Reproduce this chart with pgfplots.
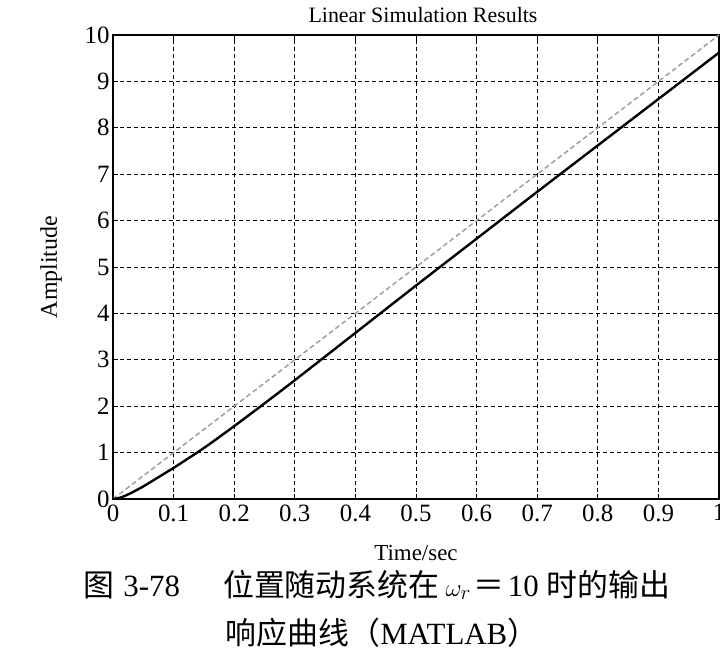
\documentclass[border=0pt]{standalone}
\usepackage{pgfplots}
\pgfplotsset{compat=1.18}
\usepackage{fontspec}
\setmainfont{Liberation Serif}
\newfontfamily\cjk{Noto Sans CJK SC}
\begin{document}
\begin{tikzpicture}
\useasboundingbox (0,0) rectangle (720bp,660bp);
\begin{axis}[
  name=ax,
  at={(113bp,161bp)}, anchor=south west,
  scale only axis, width=606bp, height=464bp,
  xmin=0, xmax=1, ymin=0, ymax=10,
  xtick={0,0.1,0.2,0.3,0.4,0.5,0.6,0.7,0.8,0.9,1},
  xticklabels={0,0.1,0.2,0.3,0.4,0.5,0.6,0.7,0.8,0.9,1},
  ytick={0,1,2,3,4,5,6,7,8,9,10},
  grid=major,
  major grid style={black, line width=0.9bp, dash pattern=on 4bp off 3bp},
  axis line style={line width=1.5bp},
  tick style={black, line width=0.8bp}, major tick length=5bp, tick align=inside,
  ticklabel style={font=\fontsize{25}{25}\selectfont},
  xticklabel style={yshift=-2bp},
  /pgf/number format/assume math mode=true,
]
\addplot[gray!75, line width=1.5bp, dash pattern=on 5bp off 3bp] coordinates {(0,0) (1,10)};
\addplot[black, line width=2.4bp, smooth] coordinates {
(0,0) (0.01,0.02) (0.02,0.07) (0.03,0.13) (0.04,0.20) (0.05,0.27) (0.06,0.35)
(0.07,0.43) (0.08,0.51) (0.09,0.59) (0.10,0.67) (0.12,0.84) (0.14,1.01)
(0.16,1.19) (0.18,1.38) (0.20,1.57) (0.25,2.06) (0.30,2.56) (0.40,3.58)
(0.50,4.60) (0.60,5.61) (0.70,6.62) (0.80,7.62) (0.90,8.62) (1.00,9.62)};
\end{axis}
\node[font=\fontsize{22}{22}\selectfont] at ([xshift=7bp,yshift=20bp]ax.north) {Linear Simulation Results};
\node[font=\fontsize{23}{23}\selectfont] at ([yshift=-54bp]ax.south) {Time/sec};
\node[font=\fontsize{24}{24}\selectfont, rotate=90] at (51bp,393bp) {Amplitude};
\node[anchor=west, font=\fontsize{31}{31}\selectfont, inner sep=0pt] at (83bp,75bp)
  {{\cjk 图}\hspace{0.3em}3-78\hspace{1.4em}{\cjk 位置随动系统在}\hspace{0.2em}$\omega_r$\hspace{0.1em}{\cjk ＝}\hspace{0.1em}10\hspace{0.25em}{\cjk 时的输出}};
\node[font=\fontsize{31}{31}\selectfont, inner sep=0pt] at (382bp,27bp)
  {{\cjk 响应曲线（}MATLAB{\cjk ）}};
\end{tikzpicture}
\end{document}
